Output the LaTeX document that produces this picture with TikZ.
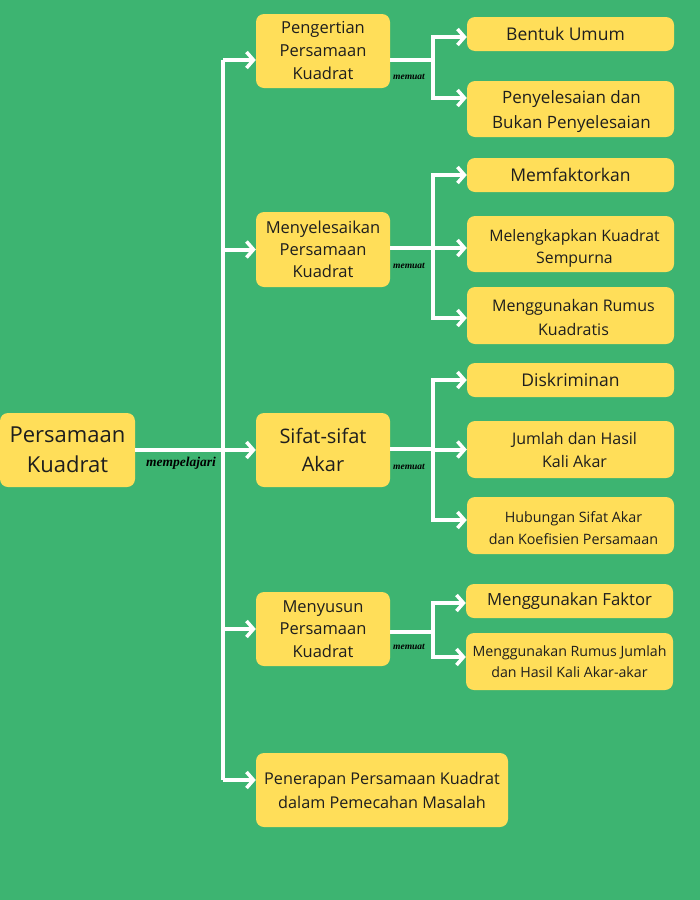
\documentclass[tikz,border=0pt]{standalone}
\usepackage{fontspec}
\setmainfont{Open Sans}
\newfontfamily\lblfont{Liberation Serif}
\usetikzlibrary{arrows.meta}
\definecolor{bg}{HTML}{3DB471}
\definecolor{boxy}{HTML}{FFDE59}
\definecolor{txt}{HTML}{1E1E1E}
\tikzset{
  box/.style={fill=boxy, draw=none, rounded corners=8pt, align=center, inner sep=0pt, text=txt},
  tx/.style={align=center, inner sep=0pt, text=txt},
  wline/.style={draw=white, line width=4pt},
  arr/.style={wline, -{Straight Barb[length=7pt, width=16pt, line width=3.5pt]}},
  lbl/.style={text=black, inner sep=0pt}
}
\newcommand{\fsz}[2]{\fontsize{#1}{#2}\selectfont}
\begin{document}
\begin{tikzpicture}[x=1pt,y=-1pt]
\fill[bg] (0,0) rectangle (700,900);
\useasboundingbox (0,0) rectangle (700,900);

% main nodes
\node[box, minimum width=135pt, minimum height=74pt, font=\fsz{22}{30}] (root) at (67.5,450) {Persamaan\\Kuadrat};
\node[box, minimum width=134pt, minimum height=74pt, font=\fsz{16.5}{23}] (pen) at (323,51) {Pengertian\\Persamaan\\Kuadrat};
\node[box, minimum width=134pt, minimum height=75pt, font=\fsz{16.5}{22}] (men) at (323,249.5) {Menyelesaikan\\Persamaan\\Kuadrat};
\node[box, minimum width=134pt, minimum height=74pt, font=\fsz{20}{28}] (sif) at (323,450) {Sifat-sifat\\Akar};
\node[box, minimum width=134pt, minimum height=74pt, font=\fsz{16.5}{22.5}] (mny) at (323,629) {Menyusun\\Persamaan\\Kuadrat};
\node[box, minimum width=252pt, minimum height=74pt, font=\fsz{16.2}{24}] (pnr) at (382,790) {Penerapan Persamaan Kuadrat\\dalam Pemecahan Masalah};

% children
\node[box, minimum width=207pt, minimum height=34pt,
  label={[tx, font=\fsz{17.5}{24}, xshift=-5pt]center:Bentuk Umum}] (bu) at (570.5,34) {};
\node[box, minimum width=207pt, minimum height=56pt,
  label={[tx, font=\fsz{17}{25}, yshift=-3pt, xshift=1pt]center:Penyelesaian dan\\Bukan Penyelesaian}] (pdb) at (570.5,109) {};
\node[box, minimum width=207pt, minimum height=34pt, font=\fsz{17.5}{24}] (mf) at (570.5,175) {Memfaktorkan};
\node[box, minimum width=207pt, minimum height=56pt,
  label={[tx, font=\fsz{15.8}{22}, yshift=-4pt, xshift=4pt]center:Melengkapkan Kuadrat\\Sempurna}] (mks) at (570.5,244) {};
\node[box, minimum width=207pt, minimum height=57pt,
  label={[tx, font=\fsz{16}{24}, yshift=-1.5pt, xshift=3pt]center:Menggunakan Rumus\\Kuadratis}] (mrk) at (570.5,315.5) {};
\node[box, minimum width=207pt, minimum height=34pt, font=\fsz{17.5}{24}] (dis) at (570.5,380) {Diskriminan};
\node[box, minimum width=207pt, minimum height=57pt,
  label={[tx, font=\fsz{16}{23}, xshift=4pt]center:Jumlah dan Hasil\\Kali Akar}] (jhk) at (570.5,449.5) {};
\node[box, minimum width=207pt, minimum height=57pt,
  label={[tx, font=\fsz{14.3}{22}, yshift=-2.5pt, xshift=3pt]center:Hubungan Sifat Akar\\dan Koefisien Persamaan}] (hsa) at (570.5,525.5) {};
\node[box, minimum width=207pt, minimum height=34pt, font=\fsz{16.7}{24}] (mfk) at (569.5,601) {Menggunakan Faktor};
\node[box, minimum width=207pt, minimum height=57pt, font=\fsz{14.2}{21}] (mrj) at (569.5,661.5) {Menggunakan Rumus Jumlah\\dan Hasil Kali Akar-akar};

% trunk
\coordinate (t0) at (223,60);
\coordinate (t1) at (223,780);
\draw[wline] (t0) -- (t1);
\draw[arr] (root.east) -- (sif.west);
\draw[arr] (t0) -- (t0 -| pen.west);
\draw[arr] (men.west -| t0) -- (men.west);
\draw[arr] (mny.west -| t0) -- (mny.west);
\draw[arr] (t1) -- (t1 -| pnr.west);

% forks
\coordinate (jp) at (433,60);
\draw[wline] (pen.east |- jp) -- (jp);
\draw[arr] (jp) |- ([yshift=-3pt]bu.west);
\draw[arr] (jp) |- ([yshift=11pt]pdb.west);

\coordinate (jm) at (433,248);
\draw[wline] (men.east |- jm) -- (jm);
\draw[arr] (jm) |- (mf.west);
\draw[arr] (jm) |- ([yshift=-4pt]mks.west);
\draw[arr] (jm) |- ([yshift=-2.5pt]mrk.west);

\coordinate (js) at (433,449);
\draw[wline] (sif.east |- js) -- (js);
\draw[arr] (js) |- (dis.west);
\draw[arr] (js) |- (jhk.west);
\draw[arr] (js) |- ([yshift=5.5pt]hsa.west);

\coordinate (jy) at (433,632);
\draw[wline] (mny.east |- jy) -- (jy);
\draw[arr] (jy) |- ([yshift=-2pt]mfk.west);
\draw[arr] (jy) |- ([yshift=4.5pt]mrj.west);

% labels
\node[lbl, font=\lblfont\bfseries\itshape\fsz{9.5}{10}] (l1) at (409,77) {memuat};
\node[lbl, font=\lblfont\bfseries\itshape\fsz{9.5}{10}] (l2) at (409,266) {memuat};
\node[lbl, font=\lblfont\bfseries\itshape\fsz{9.5}{10}] (l3) at (409,467) {memuat};
\node[lbl, font=\lblfont\bfseries\itshape\fsz{9.5}{10}] (l4) at (409,647) {memuat};
\node[lbl, font=\lblfont\bfseries\itshape\fsz{13.5}{14}] (l0) at (181,463) {mempelajari};
\end{tikzpicture}
\end{document}
